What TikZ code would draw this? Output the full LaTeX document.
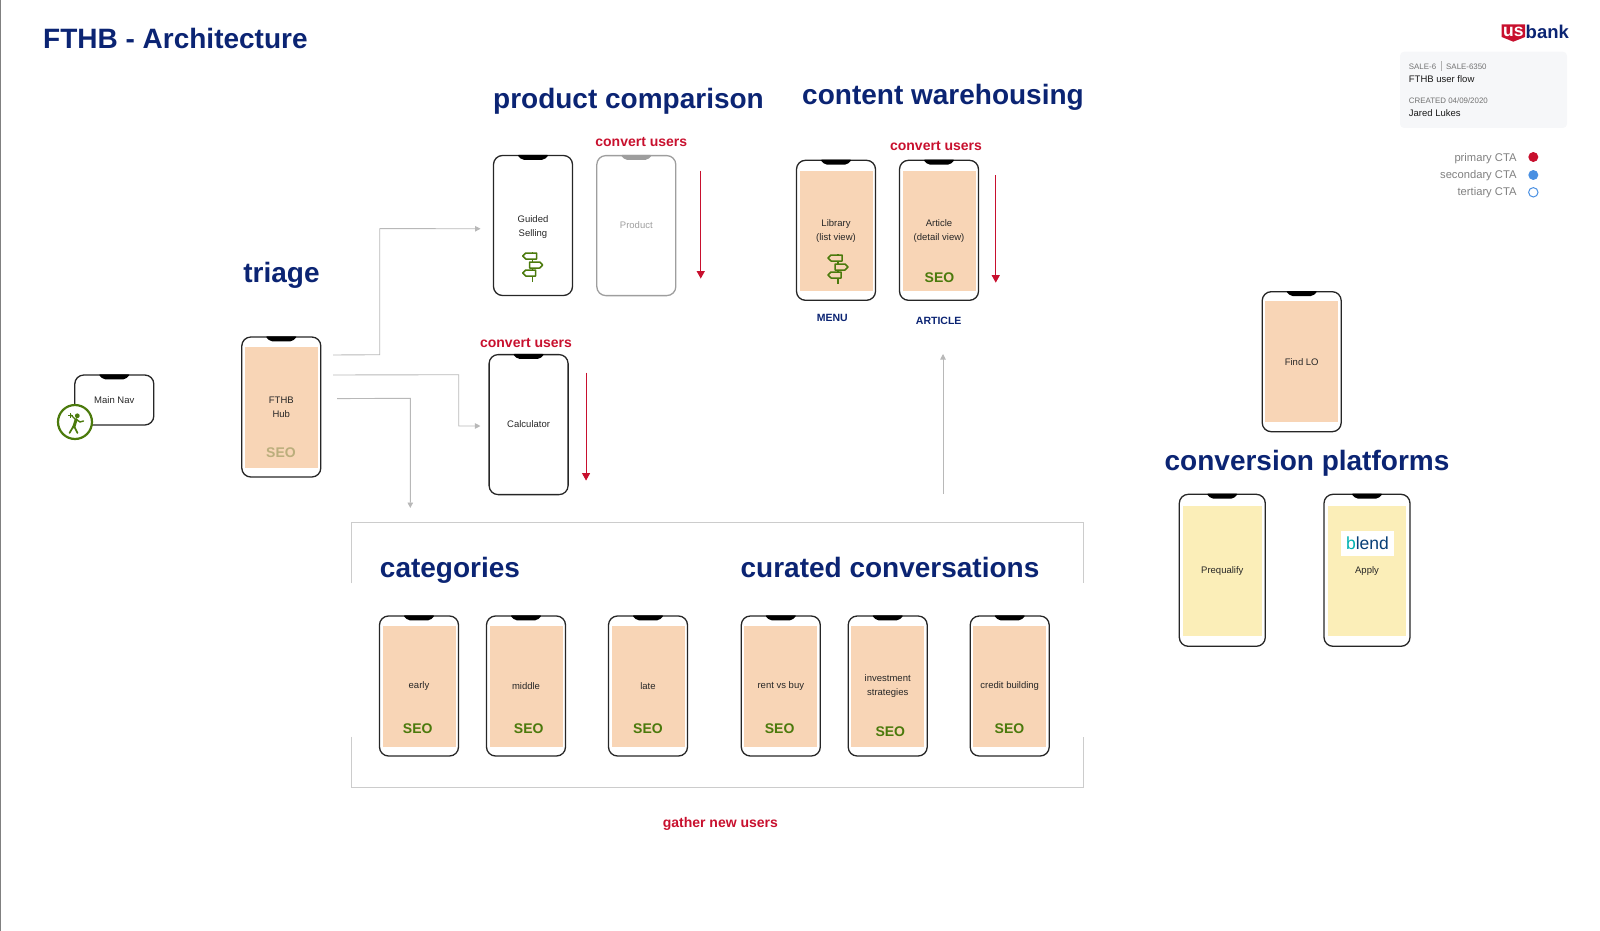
\documentclass[tikz,border=0pt]{standalone}
\usepackage{fontspec}
\setmainfont{Liberation Sans}
\usetikzlibrary{arrows.meta}
\definecolor{navyblue}{HTML}{0B2473}
\definecolor{ctared}{HTML}{C8102E}
\definecolor{seogreen}{HTML}{4B7A0C}
\definecolor{fadedseo}{HTML}{BBAE7C}
\definecolor{peach}{HTML}{F8D5B6}
\definecolor{butter}{HTML}{FBEEB8}
\definecolor{cardgray}{HTML}{F6F7F9}
\definecolor{ctablue}{HTML}{4A90E2}
\tikzset{
  phone/.style={draw=black!85, line width=1.3pt, rounded corners=9pt, inner sep=0pt, align=center,
    minimum width=79pt, minimum height=140pt, text=black!85, font=\fontsize{9.5}{14}\selectfont},
  bigphone/.style={phone, minimum width=86pt, minimum height=152pt},
  screen/.style={fill=peach, inner sep=0pt, align=center, minimum width=73pt, minimum height=120.5pt,
    yshift=-0.5pt, text=black!85, font=\fontsize{9.5}{14}\selectfont},
  bigscreen/.style={screen, fill=butter, minimum width=78.5pt, minimum height=130.5pt},
  heading/.style={text=navyblue, inner sep=0pt, font=\fontsize{28}{32}\selectfont\bfseries},
  ctatext/.style={text=ctared, inner sep=0pt, font=\fontsize{14}{16}\selectfont\bfseries},
  seotext/.style={text=seogreen, inner sep=0pt, font=\fontsize{14}{16}\selectfont\bfseries},
  tabtext/.style={text=navyblue, inner sep=0pt, font=\fontsize{10.5}{12}\selectfont\bfseries},
  legendtext/.style={text=black!50, inner sep=0pt, anchor=east, font=\fontsize{11.2}{12}\selectfont},
  cardtext/.style={inner sep=0pt, anchor=west, text=black!90, font=\fontsize{9.5}{12}\selectfont},
  cardsmall/.style={inner sep=0pt, anchor=west, text=black!55, font=\fontsize{7.9}{9}\selectfont},
  link/.style={draw=black!28, line width=0.9pt, -{Triangle[length=5.5pt,width=5.5pt]}},
  downarrow/.style={draw=ctared, line width=1.1pt, -{Triangle[length=7.5pt,width=8pt]}},
  signs/.pic={
    \draw[seogreen, line width=1.5pt] (0,0) -- (0,1) (0,7) -- (0,10) (0,16) -- (0,18) (0,24) -- (0,30);
    \draw[seogreen, line width=1.5pt, line join=round] (-7,1) -- (4,1) -- (4,7) -- (-7,7) -- (-10,4) -- cycle;
    \draw[seogreen, line width=1.5pt, line join=round] (-3,10) -- (7,10) -- (10,13) -- (7,16) -- (-3,16) -- cycle;
    \draw[seogreen, line width=1.5pt, line join=round] (-7,18) -- (3,18) -- (3,24) -- (-7,24) -- (-10,21) -- cycle;
  },
  hiker/.pic={
    \fill[seogreen] (2.3,-6.2) circle (2.4);
    \draw[seogreen, line width=3pt, line cap=round] (1.2,-2.5) -- (-1.2,5);
    \draw[seogreen, line width=1.7pt, line cap=round, line join=round] (-1.4,4) -- (-5.5,11) (-1,4) -- (2.5,11);
    \draw[seogreen, line width=1.4pt, line cap=round, line join=round] (1.5,-2.5) -- (5,0) -- (8.5,-1) (0.5,-2.5) -- (-4,-7);
    \draw[seogreen, line width=1.2pt] (-7,-6.5) -- (-2.5,-6.5) (-4.7,-9) -- (-4.7,-4);
  }
}
\begin{document}
\begin{tikzpicture}[x=1pt, y=-1pt]
  \useasboundingbox (0,0) rectangle (1600,931);
  \draw[black!50, line width=1.3pt] (0.6,0) -- (0.6,931);

  % titles
  \node[heading, anchor=west] (title) at (43,38.5) {FTHB - Architecture};
  \node[heading] (triagehead) at (281.5,275.5) {triage};
  \node[heading] (comparehead) at (628.5,101.5) {product comparison};
  \node[heading] (warehead) at (943,97.5) {content warehousing};
  \node[heading] (platformhead) at (1307,463.5) {conversion platforms};
  \node[heading] (cathead) at (450,570) {categories};
  \node[heading] (curatedhead) at (890,567) {curated conversations};

  % logo and card
  \fill[ctared] (1501.7,24.3) -- (1525,24.3) -- (1525,37) -- (1513.3,41.7) -- (1501.7,37) -- cycle;
  \node[text=white, inner sep=0pt, font=\fontsize{17.5}{16}\selectfont\bfseries] (uslogo) at (1513.3,31.5) {us};
  \node[text=navyblue, inner sep=0pt, anchor=west, font=\fontsize{18.5}{18}\selectfont\bfseries] (banklogo) at (1525.5,31.5) {bank};
  \fill[cardgray, rounded corners=4pt] (1400,51.7) rectangle (1567,128);
  \node[cardsmall] (saleone) at (1408.7,67) {SALE-6};
  \draw[black!30, line width=0.7pt] (1441,61.5) -- (1441,71);
  \node[cardsmall] (saletwo) at (1446,67) {SALE-6350};
  \node[cardtext] (flowname) at (1408.7,79.3) {FTHB user flow};
  \node[cardsmall] (created) at (1408.7,101) {CREATED 04/09/2020};
  \node[cardtext] (person) at (1408.7,113) {Jared Lukes};

  % legend
  \node[legendtext] (primary) at (1516.7,158.5) {primary CTA};
  \node[legendtext] (secondary) at (1516.7,176) {secondary CTA};
  \node[legendtext] (tertiary) at (1516.7,193) {tertiary CTA};
  \fill[ctared] (1533.3,157) circle (5);
  \fill[ctablue] (1533.3,175) circle (5);
  \draw[ctablue, line width=1pt] (1533.3,192.3) circle (4.7);

  % left side
  \node[phone, minimum height=50pt] (nav) at (114.3,400) {Main Nav};
  \node[draw=seogreen, fill=white, line width=2.2pt, circle, minimum size=34pt, inner sep=0pt] (hikeicon) at (75,422) {};
  \pic at (hikeicon) {hiker};
  \node[phone] (hub) at (281.3,407) {};
  \node[screen] (hubscreen) at (hub) {FTHB\\Hub};
  \node[seotext, text=fadedseo] (hubseo) at (281,452.7) {SEO};

  % product comparison
  \node[phone] (guided) at (533,225.5) {};
  \node[inner sep=0pt, align=center, text=black!85, font=\fontsize{9.5}{14}\selectfont] (guidedtext) at (533,226.7) {Guided\\Selling};
  \pic at (532.7,252) {signs};
  \node[phone, draw=black!38, text=black!38] (product) at (636.3,225.6) {Product};
  \node[ctatext] (convertone) at (641.3,141.7) {convert users};
  \draw[downarrow] ([xshift=24.3pt,yshift=55pt]product.east) -- ([xshift=24.3pt,yshift=-53pt]product.east);

  \node[phone] (calc) at (528.6,424.6) {Calculator};
  \node[ctatext] (converttwo) at (526,343) {convert users};
  \draw[downarrow] ([xshift=17.3pt,yshift=52pt]calc.east) -- ([xshift=17.3pt,yshift=-56pt]calc.east);

  % content warehousing
  \node[phone] (library) at (836,230.3) {};
  \node[screen] (libscreen) at (library) {Library\\(list view)};
  \pic at (838,254) {signs};
  \node[phone] (article) at (939,230.3) {};
  \node[screen] (artscreen) at (article) {Article\\(detail view)};
  \node[seotext] (artseo) at (939.5,278) {SEO};
  \node[tabtext] (menulabel) at (832.3,317.7) {MENU};
  \node[tabtext] (articlelabel) at (938.7,320.7) {ARTICLE};
  \node[ctatext] (convertthree) at (936,145.7) {convert users};
  \draw[downarrow] ([xshift=16.6pt,yshift=55.3pt]article.east) -- ([xshift=16.6pt,yshift=-52.4pt]article.east);

  % conversion platforms
  \node[phone] (findlo) at (1301.7,361.7) {};
  \node[screen, yshift=0.5pt] (findscreen) at (findlo) {Find LO};
  \node[bigphone] (prequal) at (1222.3,570.3) {};
  \node[bigscreen] (prequalscreen) at (prequal) {Prequalify};
  \node[bigphone] (apply) at (1367,570.3) {};
  \node[bigscreen] (applyscreen) at (apply) {Apply};
  \node[fill=white, minimum width=52.5pt, minimum height=25.5pt, inner sep=0pt, text=navyblue!70!teal, font=\fontsize{17.5}{18}\selectfont] (blendlogo) at (1367.5,543.5) {{\color{teal!60!cyan}b}lend};

  % frame around the lower rows
  \draw[black!20, line width=1pt] (351,583.3) -- (351,522.3) -- (1083.5,522.3) -- (1083.5,583.3);
  \draw[black!20, line width=1pt] (351,736.7) -- (351,787) -- (1083.5,787) -- (1083.5,736.7);
  \node[ctatext] (gatherlabel) at (720.4,824) {gather new users};

  % lower rows
  \foreach \nm/\cx/\lab in {early/419/early, middle/526/middle, late/648/late, rentbuy/780.8/rent vs buy, invest/887.7/{investment\\strategies}, credit/1009.7/credit building} {
    \node[phone] (\nm) at (\cx,686) {};
    \node[screen] (\nm screen) at (\nm) {\lab};
  }
  \foreach \nm/\cx/\cy in {early/417.7/729, middle/528.7/729, late/648/729, rentbuy/779.6/729, invest/890.3/731.6, credit/1009.5/729} {
    \node[seotext] (\nm seo) at (\cx,\cy) {SEO};
  }

  % notches
  \foreach \nm in {nav,hub,guided,calc,library,article,findlo,prequal,apply,early,middle,late,rentbuy,invest,credit} {
    \fill[black, rounded corners=2pt] ([xshift=-16pt]\nm.north) -- ++(5,5) -- ++(22,0) -- ++(5,-5) -- cycle;
  }
  \fill[black!38, rounded corners=2pt] ([xshift=-16pt]product.north) -- ++(5,5) -- ++(22,0) -- ++(5,-5) -- cycle;

  % connectors
  \coordinate (catin) at (410.3,508);
  \coordinate (warein) at (943,354);
  \coordinate (wareout) at (943,494);
  \draw[link, -] ([xshift=11.7pt,yshift=52pt]hub.east) -- (379.7,354.7) -- (379.7,228.6);
  \draw[link, shorten >=12.3pt] (379.7,228.6) -- ([yshift=-3.3pt]guided.west);
  \draw[link, shorten >=8pt] ([xshift=11.7pt,yshift=32pt]hub.east) -- (458.7,374.7) -- (458.7,426) -- ([yshift=-1.4pt]calc.west);
  \draw[link] ([xshift=15.7pt,yshift=8.4pt]hub.east) -- (410.3,398.3) -- (catin);
  \draw[link] (wareout) -- (warein);
\end{tikzpicture}
\end{document}
